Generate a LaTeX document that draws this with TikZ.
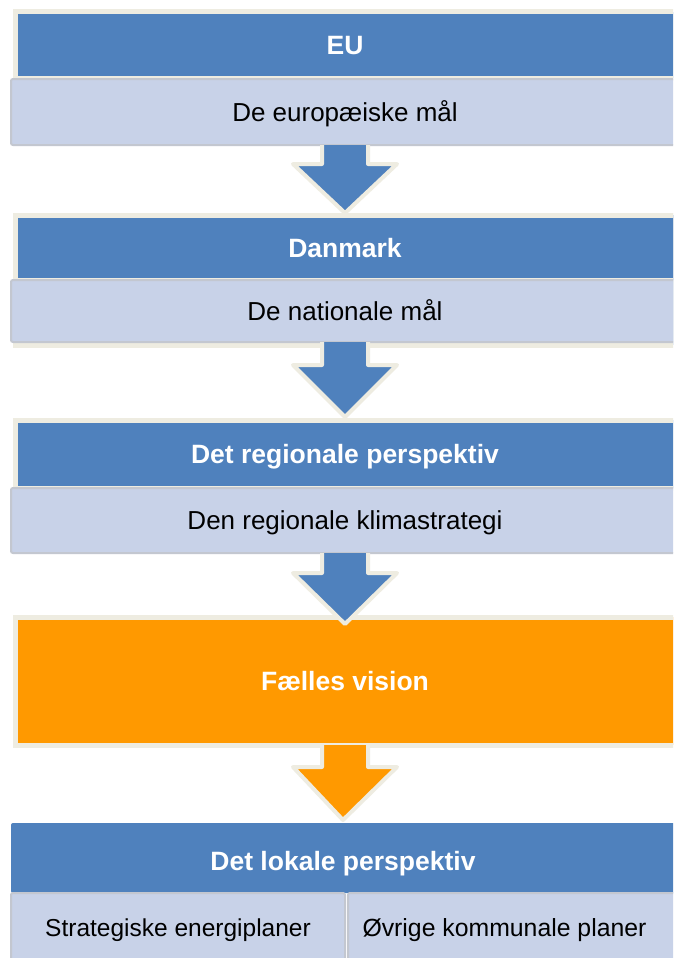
\documentclass[tikz,border=0pt]{standalone}
\usepackage{fontspec}
\setmainfont{Liberation Sans}
\usetikzlibrary{calc}
\definecolor{hblue}{HTML}{4F81BD}
\definecolor{cream}{HTML}{EEECE1}
\definecolor{vorange}{HTML}{FF9900}
\definecolor{subfill}{HTML}{C8D2E8}
\definecolor{subline}{HTML}{C3C7D0}
\tikzset{
  hdr/.style={fill=hblue, draw=cream, line width=5pt, outer sep=0pt, inner sep=0pt,
    text height=22pt, text depth=4pt,
    text=white, font=\bfseries\fontsize{26.5}{30}\selectfont},
  subbox/.style={fill=subfill, draw=subline, line width=2pt, rounded corners=2pt,
    text height=22pt, text depth=4pt,
    outer sep=0pt, inner sep=0pt, text=black, font=\fontsize{26}{30}\selectfont},
  barrowline/.style={draw=cream, line width=4pt, line join=round},
}
\newcommand\blockarrow[5]{%
  \fill[#3] ($(#1.south)+(-23,0)$) -- ($(#1.south)+(-23,#4)$) -- ($(#1.south)+(-52,#4)$)
    -- ($(#2.north)+(0,#5)$) -- ($(#1.south)+(52,#4)$) -- ($(#1.south)+(23,#4)$)
    -- ($(#1.south)+(23,0)$) -- cycle;
  \draw[barrowline] ($(#1.south)+(-23,0)$) -- ($(#1.south)+(-23,#4)$) -- ($(#1.south)+(-52,#4)$)
    -- ($(#2.north)+(0,#5)$) -- ($(#1.south)+(52,#4)$) -- ($(#1.south)+(23,#4)$)
    -- ($(#1.south)+(23,0)$);
}
\begin{document}
\begin{tikzpicture}[x=1pt,y=-1pt]
\path[use as bounding box] (0,0) rectangle (673,958);
\clip (0,0) rectangle (673,958);
\fill[white] (0,0) rectangle (673,958);

% EU
\node[hdr, minimum width=660, minimum height=66] (eu) at (345,45) {\raisebox{-1pt}{EU}};
\node[subbox, minimum width=668, minimum height=66] (eusub) at (345,112) {De europæiske mål};

% Danmark
\path[fill=hblue, draw=cream, line width=5pt] (15,215) rectangle (675,345);
\node[hdr, minimum width=660, minimum height=65] (dk) at (345,247.5) {\raisebox{-1pt}{Danmark}};
\node[subbox, minimum width=668, minimum height=62] (dksub) at (345,311) {De nationale mål};

% Regional
\node[hdr, minimum width=660, minimum height=68] (reg) at (345,454) {Det regionale perspektiv};
\node[subbox, minimum width=668, minimum height=65] (regsub) at (345,520.5) {Den regionale klimastrategi};

% Vision
\node[hdr, fill=vorange, minimum width=660, minimum height=128] (vis) at (345,681) {Fælles vision};

% Local
\node[hdr, draw=none, rounded corners=2pt, minimum width=664, minimum height=70] (lok) at (343,858) {\raisebox{-3pt}{Det lokale perspektiv}};
\node[subbox, font=\fontsize{24.5}{28}\selectfont, minimum width=334, minimum height=69] (s1) at (178,927.5) {Strategiske energiplaner};
\node[subbox, font=\fontsize{24.8}{28}\selectfont, minimum width=331, minimum height=69] (s2) at (513.5,927.5) {\hspace*{-18pt}Øvrige kommunale planer};

% Arrows
\blockarrow{eusub}{dk}{hblue}{19}{-2}
\path (dksub.south) ++(0,3) coordinate (dkbot);
\fill[hblue] ($(dkbot)+(-23,-1)$) rectangle ($(dkbot)+(23,0)$);
\blockarrow{dksub}{reg}{hblue}{23}{-3}
\blockarrow{regsub}{vis}{hblue}{20}{7}
\blockarrow{vis}{lok}{vorange}{22}{-3}
\end{tikzpicture}
\end{document}
